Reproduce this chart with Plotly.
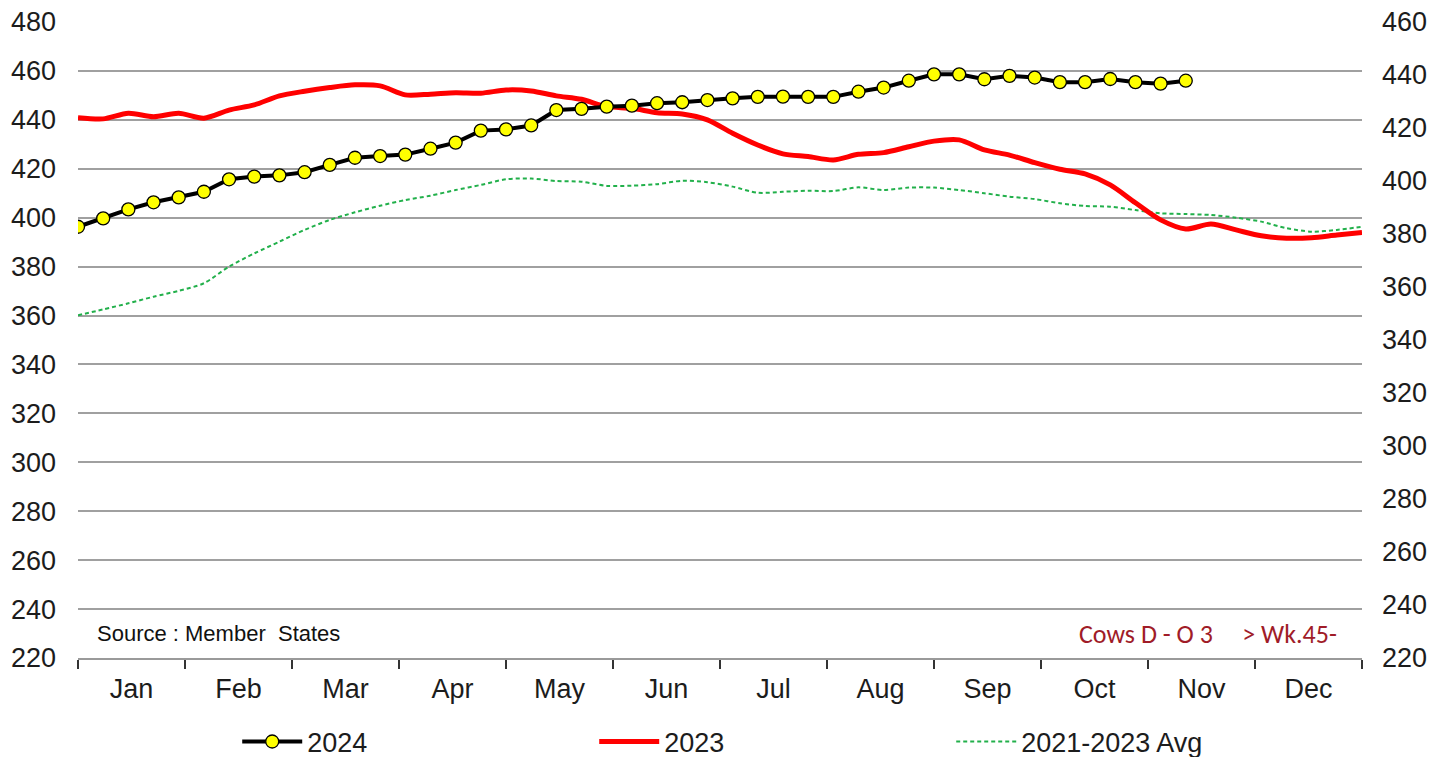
import plotly.graph_objects as go

months = ["Jan", "Feb", "Mar", "Apr", "May", "Jun", "Jul", "Aug", "Sep", "Oct", "Nov", "Dec"]
weeks_2024 = list(range(1, 46))
weeks_all = list(range(1, 53))

vals_2024 = [396.3, 399.7, 403.4, 406.3, 408.3, 410.6, 415.7, 416.8, 417.3, 418.6,
             421.6, 424.5, 425.2, 425.8, 428.2, 430.7, 435.6, 436.1, 437.7, 444.0,
             444.5, 445.4, 445.8, 446.8, 447.2, 448.1, 448.8, 449.4, 449.5, 449.4,
             449.4, 451.5, 453.2, 456.0, 458.6, 458.6, 456.6, 458.0, 457.3, 455.4,
             455.4, 456.7, 455.4, 454.8, 456.0]

vals_2023 = [440.9, 440.4, 442.7, 441.3, 442.7, 440.7, 444.0, 446.1, 449.8, 451.7,
             453.2, 454.3, 453.9, 450.2, 450.5, 451.1, 450.9, 452.2, 451.8, 449.8,
             448.4, 445.4, 444.7, 442.9, 442.4, 440.0, 434.5, 429.7, 426.1, 425.0,
             423.6, 425.9, 426.6, 429.0, 431.3, 431.8, 427.7, 425.6, 422.5, 419.8,
             417.9, 413.4, 406.1, 399.1, 395.4, 397.4, 395.0, 392.6, 391.6, 391.8,
             392.9, 393.9]

vals_avg = [360.1, 362.5, 365.0, 367.7, 370.1, 373.2, 380.0, 385.4, 390.2, 395.0,
            399.1, 402.2, 404.9, 407.2, 409.0, 411.3, 413.4, 415.7, 416.0, 415.0,
            414.7, 413.0, 413.1, 413.7, 415.1, 414.5, 412.7, 410.2, 410.6, 411.0,
            410.9, 412.4, 411.3, 412.3, 412.3, 411.3, 410.0, 408.6, 407.6, 405.9,
            404.8, 404.5, 403.1, 401.8, 401.5, 401.1, 400.0, 398.4, 395.7, 394.3,
            395.0, 396.3]

left_ticks = list(range(220, 481, 20))
right_ticks = list(range(220, 461, 20))

x0, x1 = 1, 52
mw = (x1 - x0) / 12
month_bounds = [x0 + k * mw for k in range(13)]
month_centers = [x0 + (k + 0.5) * mw for k in range(12)]

FONT = "Liberation Sans, Arial, sans-serif"
TXT = "#1c1c1c"
TICK_SIZE = 27

fig = go.Figure()
fig.add_trace(go.Scatter(
    x=weeks_all, y=vals_avg, name="2021-2023 Avg", mode="lines",
    line=dict(color="#22B04B", width=2, dash="4px,3px", shape="spline", smoothing=0.8),
))
fig.add_trace(go.Scatter(
    x=weeks_all, y=vals_2023, name="2023", mode="lines",
    line=dict(color="#FF0000", width=5, shape="spline", smoothing=0.8),
))
fig.add_trace(go.Scatter(
    x=weeks_2024, y=vals_2024, name="2024", mode="lines+markers",
    line=dict(color="#000000", width=4),
    marker=dict(color="#FFFF00", size=13, line=dict(color="#000000", width=1.3)),
))
fig.add_trace(go.Scatter(x=[None], y=[None], yaxis="y2", showlegend=False, hoverinfo="skip"))

fig.update_layout(
    width=1425, height=749,
    margin=dict(l=70, r=71, t=14, b=99, autoexpand=False),
    paper_bgcolor="white", plot_bgcolor="white",
    font=dict(family=FONT, size=TICK_SIZE, color=TXT),
    xaxis=dict(
        range=[x0, x1], tickmode="array", tickvals=month_centers, ticktext=months,
        ticks="", showgrid=False, zeroline=False, showline=True, automargin=False,
        linecolor="#9a9a9a", linewidth=1.5, ticklabelstandoff=6,
        ticklabeloverflow="allow",
        tickfont=dict(size=TICK_SIZE, family=FONT, color=TXT),
        minor=dict(tickmode="array", tickvals=month_bounds, ticks="outside", ticklen=9,
                   tickcolor="#333333", tickwidth=1.5, showgrid=False),
    ),
    yaxis=dict(
        range=[220, 480], tickmode="array", tickvals=left_ticks, ticks="",
        showgrid=True, gridcolor="#a0a0a0", gridwidth=1.5, zeroline=False,
        showline=False, ticklabelstandoff=21, automargin=False,
        ticklabeloverflow="allow",
        tickfont=dict(size=TICK_SIZE, family=FONT, color=TXT),
    ),
    yaxis2=dict(
        range=[220, 460], tickmode="array", tickvals=right_ticks, ticks="",
        overlaying="y", side="right", showgrid=False, zeroline=False,
        showline=False, ticklabelstandoff=19, automargin=False,
        ticklabeloverflow="allow",
        tickfont=dict(size=TICK_SIZE, family=FONT, color=TXT),
    ),
    legend=dict(
        orientation="h", x=0.124, xanchor="left", y=-0.132, yanchor="middle",
        traceorder="reversed", entrywidth=282, entrywidthmode="pixels",
        font=dict(size=27, family=FONT, color=TXT), itemwidth=60,
        bgcolor="rgba(0,0,0,0)",
    ),
    annotations=[
        dict(text="Source\u00a0:\u00a0Member\u00a0\u00a0States", xref="paper", yref="y",
             x=0.013, y=230, xanchor="left", yanchor="middle", showarrow=False,
             font=dict(size=22, family=FONT, color="#111111")),
        dict(text="Cows D - O 3\u00a0\u00a0\u00a0\u00a0\u00a0> Wk.45-", xref="paper", yref="y",
             x=0.982, y=230, xanchor="right", yanchor="middle", showarrow=False,
             font=dict(size=26, family="Carlito, Lato, sans-serif", color="#A01C28")),
    ],
    showlegend=True,
)

fig.write_html("out.html")
